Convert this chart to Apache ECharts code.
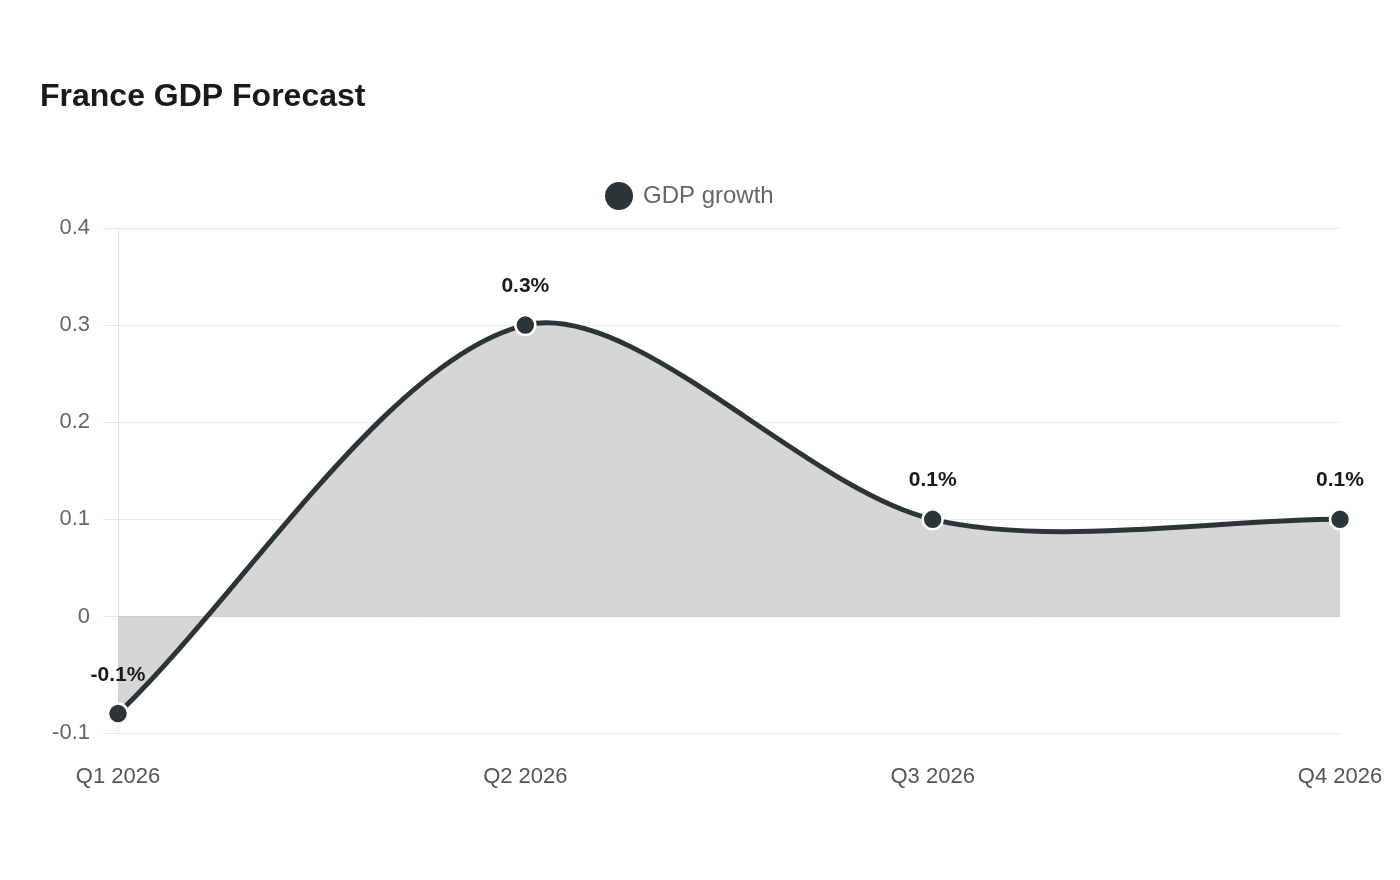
<!DOCTYPE html>
<html>
<head>
<meta charset="utf-8">
<script src="https://cdn.jsdelivr.net/npm/echarts@6/dist/echarts.min.js"></script>
<style>
  html, body { margin: 0; padding: 0; background: #fff; }
  #chart { width: 1400px; height: 880px; }
</style>
</head>
<body>
<div id="chart"></div>
<script>
// France GDP forecast
var quarters = ['Q1 2026', 'Q2 2026', 'Q3 2026', 'Q4 2026'];
var gdpGrowth = [-0.1, 0.3, 0.1, 0.1];
var yTicks = [-0.12, 0, 0.1, 0.2, 0.3, 0.4];

var dom = document.getElementById('chart');
var myChart = echarts.init(dom);

var lineColor = '#2d3436';
var tension = 0.3;

// cardinal-style spline through the data points (pixel space)
function splinePath(api) {
    var pts = gdpGrowth.map(function (v, i) { return api.coord([i, v]); });
    var cps = pts.map(function (cur, i) {
        var prev = pts[i - 1] || cur;
        var next = pts[i + 1] || cur;
        var d01 = Math.hypot(cur[0] - prev[0], cur[1] - prev[1]);
        var d12 = Math.hypot(next[0] - cur[0], next[1] - cur[1]);
        var s01 = d01 / (d01 + d12) || 0;
        var s12 = d12 / (d01 + d12) || 0;
        var fa = tension * s01, fb = tension * s12;
        var dx = next[0] - prev[0], dy = next[1] - prev[1];
        return {
            before: [cur[0] - fa * dx, cur[1] - fa * dy],
            after: [cur[0] + fb * dx, cur[1] + fb * dy]
        };
    });
    var d = 'M' + pts[0][0] + ',' + pts[0][1];
    for (var i = 0; i < pts.length - 1; i++) {
        var a = cps[i].after, b = cps[i + 1].before, p = pts[i + 1];
        d += ' C' + a[0] + ',' + a[1] + ' ' + b[0] + ',' + b[1] + ' ' + p[0] + ',' + p[1];
    }
    return { d: d, pts: pts };
}

var option = {
    backgroundColor: '#ffffff',
    textStyle: { fontFamily: 'Liberation Sans, Arial, sans-serif' },
    title: {
        text: 'France GDP Forecast',
        left: 35,
        top: 76,
        textStyle: { fontSize: 32, fontWeight: 'bold', color: '#1a1a1a' }
    },
    legend: {
        top: 175,
        left: 598,
        icon: 'circle',
        itemWidth: 30,
        itemHeight: 30,
        itemGap: 10,
        textStyle: { fontSize: 24, color: '#666666', padding: [0, 0, 0, 4] },
        data: ['GDP growth']
    },
    grid: {
        left: 118,
        right: 60,
        top: 228,
        bottom: 147,
        containLabel: false
    },
    xAxis: {
        type: 'category',
        data: quarters,
        boundaryGap: false,
        axisLine: { show: true, lineStyle: { color: '#d0d0d0' } },
        axisTick: { show: false },
        axisLabel: { color: '#555555', fontSize: 22, margin: 33 },
        splitLine: { show: false }
    },
    yAxis: {
        type: 'value',
        min: -0.12,
        max: 0.4,
        axisLine: { show: true, lineStyle: { color: '#e0e0e0' } },
        axisTick: { show: true, length: 15, customValues: yTicks, lineStyle: { color: '#e6e6e6' } },
        axisLabel: {
            color: '#666666',
            fontSize: 22,
            margin: 28,
            customValues: yTicks,
            formatter: function (v) {
                if (Math.abs(v) < 1e-9) return '0';
                return (Math.round(v * 10) / 10).toString();
            }
        },
        splitLine: { show: true, lineStyle: { color: '#ebebeb' } }
    },
    series: [
        {
            name: 'GDP curve',
            type: 'custom',
            data: gdpGrowth.map(function (v, i) { return [i, v]; }),
            z: 2,
            silent: true,
            renderItem: function (params, api) {
                if (params.dataIndex !== 0) return null;
                var sp = splinePath(api);
                var zeroY = api.coord([0, 0])[1];
                var first = sp.pts[0], last = sp.pts[sp.pts.length - 1];
                var areaD = sp.d + ' L' + last[0] + ',' + zeroY + ' L' + first[0] + ',' + zeroY + ' Z';
                return {
                    type: 'group',
                    children: [
                        {
                            type: 'path',
                            shape: { pathData: areaD },
                            style: { fill: 'rgba(200,200,200,0.75)', stroke: null }
                        },
                        {
                            type: 'path',
                            shape: { pathData: sp.d },
                            style: { fill: null, stroke: lineColor, lineWidth: 5 }
                        }
                    ]
                };
            }
        },
        {
            name: 'GDP growth',
            type: 'line',
            data: gdpGrowth,
            symbol: 'circle',
            symbolSize: 20,
            lineStyle: { color: lineColor, width: 0, opacity: 0 },
            itemStyle: { color: lineColor, borderColor: '#ffffff', borderWidth: 2.5 },
            label: {
                show: true,
                position: 'top',
                distance: 17,
                fontSize: 21,
                fontWeight: 'bold',
                color: '#1a1a1a',
                formatter: function (p) { return p.value.toFixed(1) + '%'; }
            },
            z: 3
        }
    ]
};

if (option && typeof option === 'object') {
    myChart.setOption(option);
}
</script>
</body>
</html>
